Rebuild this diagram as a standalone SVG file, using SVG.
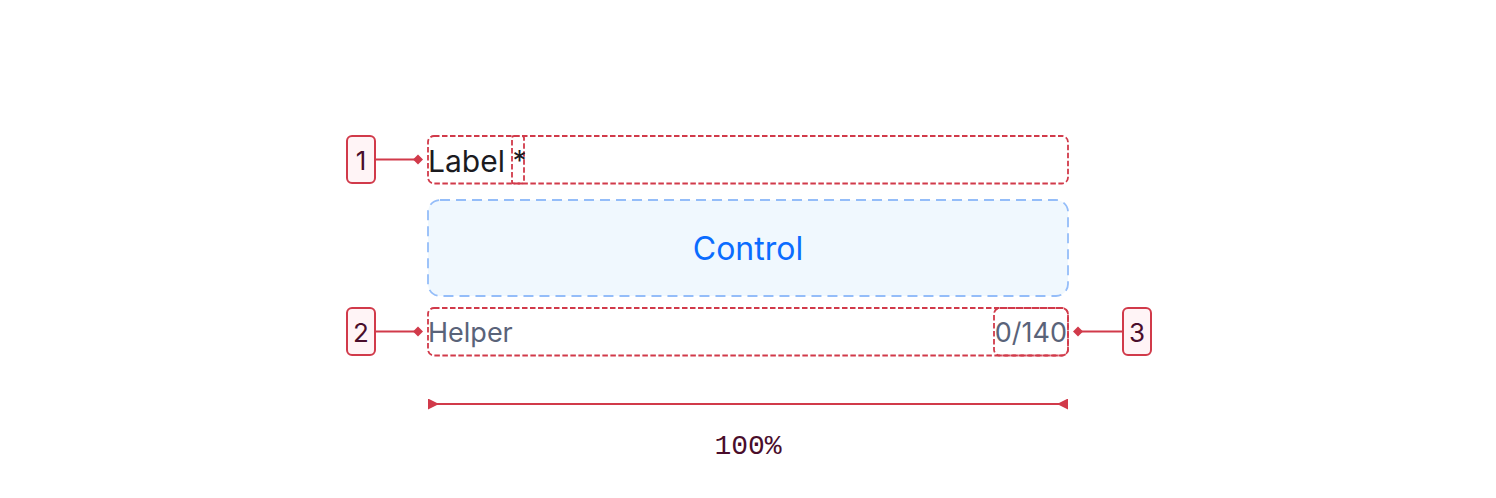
<svg xmlns="http://www.w3.org/2000/svg" width="1496" height="498" viewBox="0 0 1496 498">
<defs>
<style>
.box{fill:none;stroke:#d13a4a;stroke-width:1.8;stroke-dasharray:5.5 2.5}
.badge rect{fill:#fff4f6;stroke:#d13a4a;stroke-width:2}
.badge text{font-family:Inter,"Noto Sans",sans-serif;font-size:26px;fill:#4a0d2b;text-anchor:middle}
.conn{stroke:#d13a4a;stroke-width:2;fill:none}
.dia{fill:#d13a4a}
.t{font-family:Inter,"Noto Sans",sans-serif}
</style>
<marker id="triR" viewBox="0 0 10 10" refX="0" refY="5" markerWidth="11" markerHeight="11" markerUnits="userSpaceOnUse" orient="auto">
<path d="M0,0 L10,5 L0,10 Z" fill="#d13a4a"/>
</marker>
<marker id="triL" viewBox="0 0 10 10" refX="10" refY="5" markerWidth="11" markerHeight="11" markerUnits="userSpaceOnUse" orient="auto">
<path d="M10,0 L0,5 L10,10 Z" fill="#d13a4a"/>
</marker>
</defs>
<rect width="1496" height="498" fill="#ffffff"/>

<g id="label">
<rect class="box" x="428" y="136" width="640" height="47.5" rx="6"/>
<rect class="box" x="512" y="136" width="12" height="47.5" rx="2"/>
<text class="t" x="428" y="172" font-size="30" fill="#1b1b1f">Label</text>
<text class="t" x="512.5" y="171" font-size="28" fill="#1b1b1f">*</text>
</g>

<g id="control">
<rect x="428" y="200" width="640" height="96" rx="12" fill="#f0f8fe" stroke="#94bdf9" stroke-width="1.8" stroke-dasharray="10 6"/>
<text class="t" x="748" y="260" font-size="32" fill="#0a6cff" text-anchor="middle">Control</text>
</g>

<g id="helper">
<rect class="box" x="428" y="308" width="640" height="47.5" rx="6"/>
<rect class="box" x="994" y="308" width="74" height="47.5" rx="6"/>
<text class="t" x="428" y="342" font-size="27" fill="#5a6379">Helper</text>
<text class="t" x="1067" y="342" font-size="27" fill="#5a6379" text-anchor="end">0/140</text>
</g>

<g id="badge1" class="badge">
<rect x="347" y="136" width="28" height="47" rx="5"/>
<text x="361" y="169.5">1</text>
</g>
<g id="badge2" class="badge">
<rect x="347" y="308" width="28" height="47" rx="5"/>
<text x="361" y="341.5">2</text>
</g>
<g id="badge3" class="badge">
<rect x="1123" y="308" width="28" height="47" rx="5"/>
<text x="1137" y="341.5">3</text>
</g>

<g id="connectors">
<line class="conn" x1="375" y1="159.5" x2="418" y2="159.5"/>
<path class="dia" d="M418,154.5 L423,159.5 L418,164.5 L413,159.5 Z"/>
<line class="conn" x1="375" y1="331.5" x2="418" y2="331.5"/>
<path class="dia" d="M418,326.5 L423,331.5 L418,336.5 L413,331.5 Z"/>
<line class="conn" x1="1078" y1="331.5" x2="1123" y2="331.5"/>
<path class="dia" d="M1078,326.5 L1083,331.5 L1078,336.5 L1073,331.5 Z"/>
<line class="conn" x1="428" y1="404" x2="1068" y2="404" marker-start="url(#triR)" marker-end="url(#triL)"/>
</g>

<g id="dimension">
<text x="748" y="454" font-family="'Liberation Mono',monospace" font-size="28" fill="#4a0d2b" text-anchor="middle">100%</text>
</g>
</svg>
